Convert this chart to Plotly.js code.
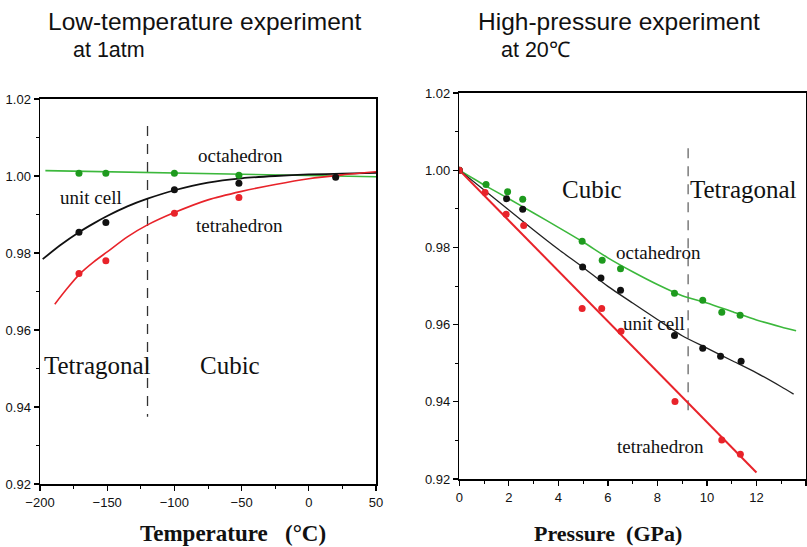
<!DOCTYPE html>
<html>
<head>
<meta charset="utf-8">
<script src="https://cdn.plot.ly/plotly-3.0.1.min.js"></script>
<style>html,body{margin:0;padding:0;background:#fff;}#chart{width:807px;height:547px;}</style>
</head>
<body>
<div id="chart"></div>
<script>
// ---------- Low-temperature experiment (left) ----------
const tempPoints = [-171, -151, -100, -52, 20];
const octaT = [1.0007, 1.0007, 1.0007, 1.0002, null];
const cellT = [0.9854, 0.9879, 0.9964, 0.9981, 0.9997];
const tetraT = [0.9747, 0.9780, 0.9903, 0.9944, null];

const octaFitTx = [-196, 50];
const octaFitTy = [1.0014, 0.9998];
const cellFitTx = [-198, -185, -171, -160, -150, -135, -120, -100, -75, -50, -25, 0, 25, 50];
const cellFitTy = [0.9784, 0.9820, 0.9854, 0.9877, 0.9896, 0.9921, 0.9941, 0.9963, 0.9983, 0.9994, 1.0000, 1.0004, 1.0006, 1.0008];
const tetraFitTx = [-189, -180, -170, -160, -150, -135, -120, -100, -75, -50, -25, 0, 25, 50];
const tetraFitTy = [0.9667, 0.9707, 0.9747, 0.9777, 0.9803, 0.9842, 0.9873, 0.9905, 0.9938, 0.9960, 0.9978, 0.9993, 1.0003, 1.0011];

const boundaryTx = [-120, -120];
const boundaryTy = [1.013, 0.9375];

// ---------- High-pressure experiment (right) ----------
const octaPx = [0, 1.08, 1.95, 2.56, 4.96, 5.77, 6.51, 8.69, 9.83, 10.6, 11.34];
const octaPy = [1.0, 0.9963, 0.9944, 0.9925, 0.9816, 0.9767, 0.9745, 0.9681, 0.9663, 0.9632, 0.9624];
const cellPx = [0, 1.91, 2.56, 4.98, 5.72, 6.51, 8.69, 9.83, 10.55, 11.38];
const cellPy = [1.0, 0.9926, 0.9899, 0.9749, 0.9721, 0.9689, 0.9572, 0.9539, 0.9518, 0.9505];
const tetraPx = [0, 1.04, 1.89, 2.6, 4.96, 5.75, 6.53, 8.71, 10.6, 11.35];
const tetraPy = [1.0, 0.9942, 0.9886, 0.9857, 0.9642, 0.9642, 0.9583, 0.9401, 0.9301, 0.9264];

const octaFitPx = [0, 1, 2, 3, 4, 5, 6, 7, 8, 9, 10, 11, 12, 13, 13.6];
const octaFitPy = [1.0, 0.9962, 0.9926, 0.9889, 0.9852, 0.9814, 0.9773, 0.9737, 0.9704, 0.9675, 0.9656, 0.9634, 0.9612, 0.9594, 0.9584];
const cellFitPx = [0, 1, 2, 3, 4, 5, 6, 7, 8, 9, 10, 11, 12, 13, 13.5];
const cellFitPy = [1.0, 0.9949, 0.9897, 0.9845, 0.9795, 0.9748, 0.9699, 0.9656, 0.9613, 0.9571, 0.9539, 0.9507, 0.9475, 0.9439, 0.9420];
const tetraFitPx = [0, 12];
const tetraFitPy = [1.0, 0.9217];

const boundaryPx = [9.24, 9.24];
const boundaryPy = [1.0057, 0.9361];

// ---------- Text ----------
const labelsT = [
  {text: 'octahedron', x: -51, y: 1.0053, size: 19},
  {text: 'unit cell', x: -162, y: 0.9943, size: 19},
  {text: 'tetrahedron', x: -51.4, y: 0.9871, size: 19},
  {text: 'Tetragonal', x: -157, y: 0.9507, size: 25},
  {text: 'Cubic', x: -58.6, y: 0.9507, size: 25}
];
const labelsP = [
  {text: 'Cubic', x: 5.34, y: 0.9949, size: 25},
  {text: 'Tetragonal', x: 11.46, y: 0.9949, size: 25},
  {text: 'octahedron', x: 8.03, y: 0.9788, size: 19},
  {text: 'unit cell', x: 7.85, y: 0.9603, size: 19},
  {text: 'tetrahedron', x: 8.12, y: 0.9284, size: 19}
];

const GREEN_M = '#1e9a1e', GREEN_L = '#3cb83c', RED = '#e8232a', BLACK = '#111111';

function pts(x, y, c, xa, ya) {
  return {x: x, y: y, mode: 'markers', type: 'scatter', xaxis: xa, yaxis: ya,
    marker: {color: c, size: 7}, hoverinfo: 'skip', showlegend: false};
}
function line(x, y, c, xa, ya, shape, dash, w) {
  return {x: x, y: y, mode: 'lines', type: 'scatter', xaxis: xa, yaxis: ya,
    line: {color: c, width: w || 1.6, shape: shape || 'linear', dash: dash || 'solid', smoothing: 0.7},
    hoverinfo: 'skip', showlegend: false};
}

const data = [
  line(boundaryTx, boundaryTy, '#333', 'x', 'y', 'linear', '10px,8px', 1.3),
  line(octaFitTx, octaFitTy, GREEN_L, 'x', 'y'),
  line(cellFitTx, cellFitTy, BLACK, 'x', 'y', 'spline', 'solid', 1.8),
  line(tetraFitTx, tetraFitTy, RED, 'x', 'y', 'spline'),
  pts(tempPoints, octaT, GREEN_M, 'x', 'y'),
  pts(tempPoints, cellT, BLACK, 'x', 'y'),
  pts(tempPoints, tetraT, RED, 'x', 'y'),

  line(boundaryPx, boundaryPy, '#666', 'x2', 'y2', 'linear', '10px,8px', 1.3),
  line(octaFitPx, octaFitPy, GREEN_L, 'x2', 'y2', 'spline'),
  line(cellFitPx, cellFitPy, '#222', 'x2', 'y2', 'spline', 'solid', 1.3),
  line(tetraFitPx, tetraFitPy, RED, 'x2', 'y2', 'linear', 'solid', 2),
  pts(octaPx, octaPy, GREEN_M, 'x2', 'y2'),
  pts(cellPx, cellPy, BLACK, 'x2', 'y2'),
  pts(tetraPx, tetraPy, RED, 'x2', 'y2')
];

const W = 807, H = 547;
const tickFont = {family: 'Liberation Sans Narrow, Arial Narrow, Liberation Sans, Arial, sans-serif', size: 13, color: '#111'};
function xax(dom, range, dtick, minor, anchor) {
  return {domain: dom, range: range, anchor: anchor, dtick: dtick, tick0: range[0],
    showline: true, linecolor: '#000', linewidth: 2.2, mirror: true,
    ticks: 'outside', ticklen: 5, tickwidth: 1.3, tickcolor: '#000',
    minor: {dtick: minor, ticks: 'outside', ticklen: 3, tickwidth: 1, tickcolor: '#000'},
    showgrid: false, zeroline: false, tickfont: tickFont, fixedrange: true};
}
function yax(dom, anchor) {
  return {domain: dom, range: [0.92, 1.02], anchor: anchor, dtick: 0.02, tick0: 0.92, tickformat: '.2f',
    showline: true, linecolor: '#000', linewidth: 1.5, mirror: true,
    ticks: 'outside', ticklen: 5, tickwidth: 1.3, tickcolor: '#000',
    minor: {dtick: 0.01, ticks: 'outside', ticklen: 3, tickwidth: 1, tickcolor: '#000'},
    showgrid: false, zeroline: false, tickfont: tickFont, fixedrange: true};
}

const serif = 'Liberation Serif, Times New Roman, serif';
const sans = 'Liberation Sans, Arial, sans-serif';
const annotations = [];
labelsT.forEach(l => annotations.push({text: l.text, x: l.x, y: l.y, xref: 'x', yref: 'y', showarrow: false,
  xanchor: 'center', yanchor: 'middle', font: {family: serif, size: l.size, color: '#111'}}));
labelsP.forEach(l => annotations.push({text: l.text, x: l.x, y: l.y, xref: 'x2', yref: 'y2', showarrow: false,
  xanchor: 'center', yanchor: 'middle', font: {family: serif, size: l.size, color: '#111'}}));

const titles = [
  {text: 'Low-temperature experiment', px: 46, py: 22, size: 24.5},
  {text: 'at 1atm', px: 71, py: 50, size: 21.5},
  {text: 'High-pressure experiment', px: 476, py: 22, size: 24.5},
  {text: 'at 20℃', px: 499, py: 50, size: 21.5}
];
titles.forEach(t => annotations.push({text: t.text, x: t.px / W, y: 1 - t.py / H, xref: 'paper', yref: 'paper',
  showarrow: false, xanchor: 'left', yanchor: 'middle', font: {family: sans, size: t.size, color: '#111'}}));

const axisTitles = [
  {text: '<b>Temperature&nbsp;&nbsp;&nbsp;(°C)</b>', px: 233, py: 533, size: 23},
  {text: '<b>Pressure&nbsp;&nbsp;(GPa)</b>', px: 608, py: 533, size: 22}
];
axisTitles.forEach(t => annotations.push({text: t.text, x: t.px / W, y: 1 - t.py / H, xref: 'paper', yref: 'paper',
  showarrow: false, xanchor: 'center', yanchor: 'middle', font: {family: serif, size: t.size, color: '#111'}}));

const layout = {
  width: W, height: H,
  margin: {l: 0, r: 0, t: 0, b: 0},
  paper_bgcolor: '#fff', plot_bgcolor: '#fff',
  showlegend: false,
  xaxis: xax([40 / W, 376 / W], [-200, 50], 50, 25, 'y'),
  yaxis: yax([1 - 484 / H, 1 - 99 / H], 'x'),
  xaxis2: xax([459.3 / W, 806 / W], [0, 14], 2, 1, 'y2'),
  yaxis2: yax([1 - 479 / H, 1 - 93 / H], 'x2'),
  annotations: annotations
};

Plotly.newPlot('chart', data, layout, {displayModeBar: false, staticPlot: true});
</script>
</body>
</html>
